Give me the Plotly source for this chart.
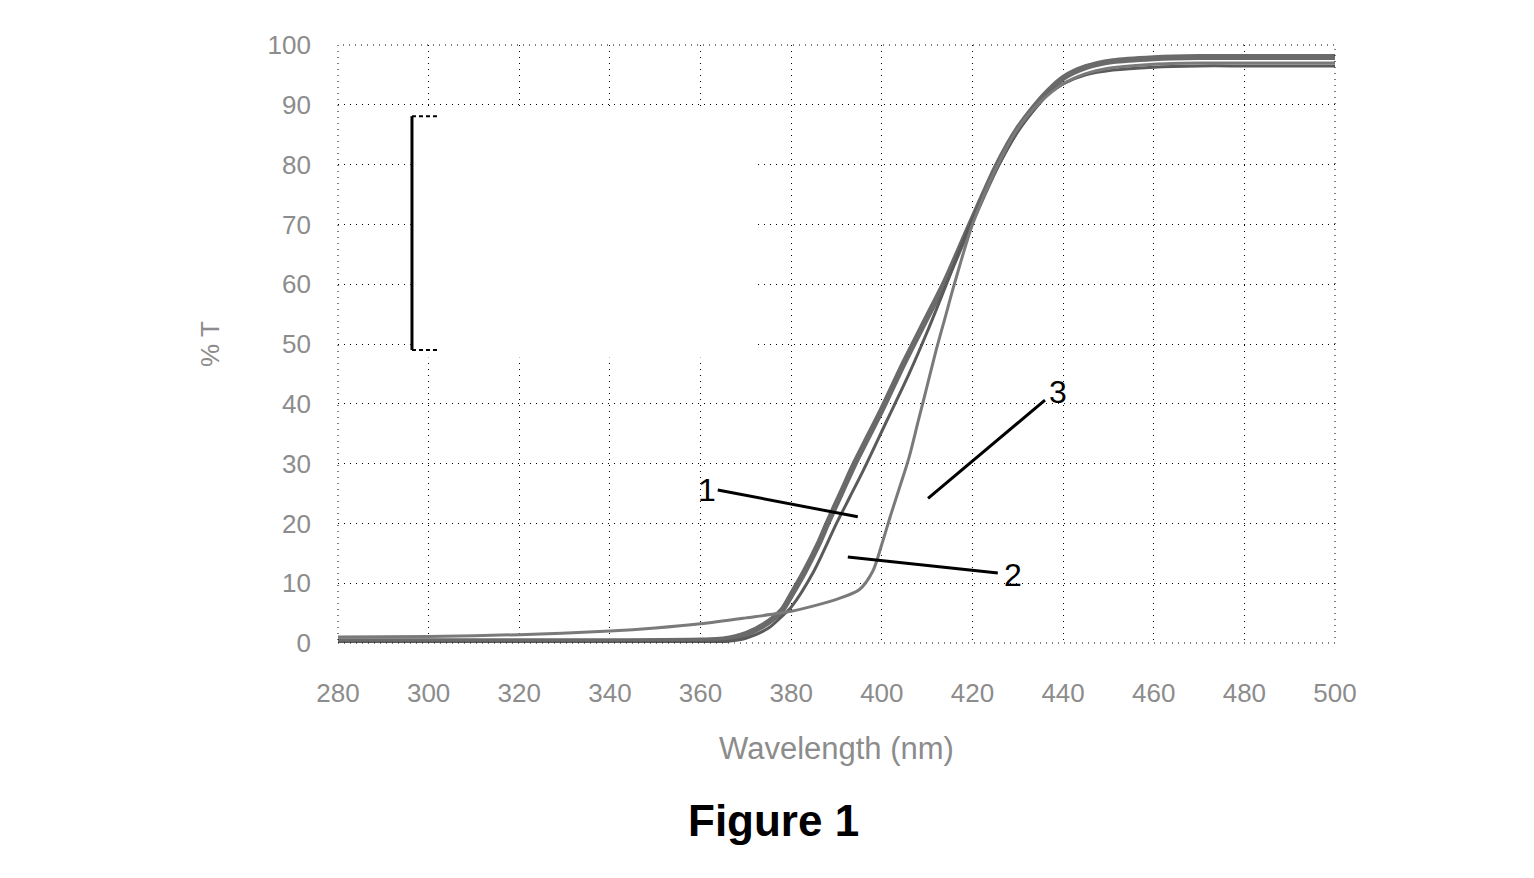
import plotly.graph_objects as go

# ---- data ----
wl_1 = [280, 300, 320, 340, 360, 365, 370, 375, 378, 380, 383, 386, 388, 391, 394, 397, 400, 405, 410, 414, 419.5, 425.5, 430, 434, 437, 440, 445, 451, 460, 470, 480, 490, 500]
t_1 = [0.3, 0.3, 0.3, 0.3, 0.4, 0.6, 1.5, 3.5, 5.5, 8, 12, 16.5, 20, 25, 30, 34.5, 39, 47, 54.5, 60.5, 70, 80, 86, 90, 92.5, 94.5, 96.3, 97.3, 97.8, 98, 98, 98, 98]

wl_2 = [280, 300, 320, 340, 360, 365, 370, 375, 378, 380, 385, 390, 393, 396, 401, 406, 410, 414, 419.5, 425.5, 430, 434, 437, 440, 445, 451, 460, 470, 480, 490, 500]
t_2 = [0, 0, 0, 0, 0.1, 0.2, 0.8, 2.5, 4.5, 6, 12, 20, 24.5, 29, 37, 45, 52, 59.5, 70, 79.5, 85.5, 89.5, 92, 93.5, 95, 95.8, 96.3, 96.5, 96.5, 96.5, 96.5]

wl_3 = [280, 300, 320, 340, 350, 360, 370, 380, 385, 390, 395, 398, 400, 402, 404, 406, 408, 410, 412, 414, 416, 420, 425, 430, 435, 440, 445, 450, 460, 470, 480, 490, 500]
t_3 = [1.0, 1.1, 1.4, 2.0, 2.5, 3.2, 4.2, 5.3, 6.2, 7.3, 8.9, 12, 16.5, 21.5, 26.2, 31, 37, 43, 49, 54.5, 60, 70, 79, 86, 90.5, 93.5, 95.2, 96.1, 96.8, 97, 97, 97, 97]

x_ticks = [280, 300, 320, 340, 360, 380, 400, 420, 440, 460, 480, 500]
y_ticks = [0, 10, 20, 30, 40, 50, 60, 70, 80, 90, 100]

# callout labels: text, text position, leader-line start/end (data units)
callout_text = ["1", "2", "3"]
callout_pos = [(361.4, 25.6), (429.0, 11.4), (438.9, 41.9)]
callout_line = [((363.8, 25.6), (394.7, 21.1)),
                ((392.5, 14.4), (425.6, 11.7)),
                ((410.2, 24.2), (436.0, 40.6))]

fig = go.Figure()
fig.add_trace(go.Scatter(x=wl_1, y=t_1, mode="lines", line=dict(color="#6a6a6a", width=6, shape="spline", smoothing=0.8), showlegend=False))
fig.add_trace(go.Scatter(x=wl_2, y=t_2, mode="lines", line=dict(color="#5a5a5a", width=3, shape="spline", smoothing=0.8), showlegend=False))
fig.add_trace(go.Scatter(x=wl_3, y=t_3, mode="lines", line=dict(color="#7a7a7a", width=3, shape="spline", smoothing=0.8), showlegend=False))

grid = dict(showgrid=True, gridcolor="black", gridwidth=1, griddash="1px,5px", zeroline=False, showline=False)
tickfont = dict(family="Liberation Sans, Arial", size=26, color="#8c8c8c")
fig.update_xaxes(range=[280, 500], tickvals=x_ticks, tickfont=tickfont, ticks="", ticklabelstandoff=32,
                 title=dict(text="Wavelength (nm)", font=dict(family="Liberation Sans, Arial", size=31, color="#8c8c8c"), standoff=30), **grid)
fig.update_yaxes(range=[0, 100], tickvals=y_ticks, tickfont=tickfont, ticks="", ticklabelstandoff=26,
                 title=dict(text="% T", font=dict(family="Liberation Sans, Arial", size=26, color="#8c8c8c"), standoff=40), **grid)

shapes = []
# plot border (dotted)
shapes.append(dict(type="rect", xref="paper", yref="paper", x0=0, x1=1, y0=0, y1=1, line=dict(color="black", width=1, dash="1px,5px"), layer="above"))
# blank legend box hiding gridlines
shapes.append(dict(type="rect", xref="paper", yref="paper", x0=0.073, x1=0.418, y0=0.477, y1=0.893, fillcolor="white", line=dict(width=0), layer="above"))
# legend bracket remnant
shapes.append(dict(type="line", xref="paper", yref="paper", x0=0.0742, x1=0.0742, y0=0.490, y1=0.881, line=dict(color="black", width=3), layer="above"))
shapes.append(dict(type="line", xref="paper", yref="paper", x0=0.0742, x1=0.1023, y0=0.881, y1=0.881, line=dict(color="black", width=2, dash="4px,3px"), layer="above"))
shapes.append(dict(type="line", xref="paper", yref="paper", x0=0.0742, x1=0.1023, y0=0.490, y1=0.490, line=dict(color="black", width=2, dash="4px,3px"), layer="above"))
for (a, b) in callout_line:
    shapes.append(dict(type="line", x0=a[0], y0=a[1], x1=b[0], y1=b[1], line=dict(color="black", width=3), layer="above"))

annotations = []
for t, (px, py) in zip(callout_text, callout_pos):
    annotations.append(dict(x=px, y=py, text=t, showarrow=False, font=dict(family="Liberation Sans, Arial", size=32, color="black")))
annotations.append(dict(xref="paper", yref="paper", x=0.437, y=-0.297, yanchor="middle", text="<b>Figure 1</b>", showarrow=False,
                        font=dict(family="Liberation Sans, Arial", size=44, color="black")))

fig.update_layout(width=1534, height=878, margin=dict(l=338, r=199, t=45, b=235),
                  plot_bgcolor="white", paper_bgcolor="white", shapes=shapes, annotations=annotations, showlegend=False)

fig.write_html("out.html")
